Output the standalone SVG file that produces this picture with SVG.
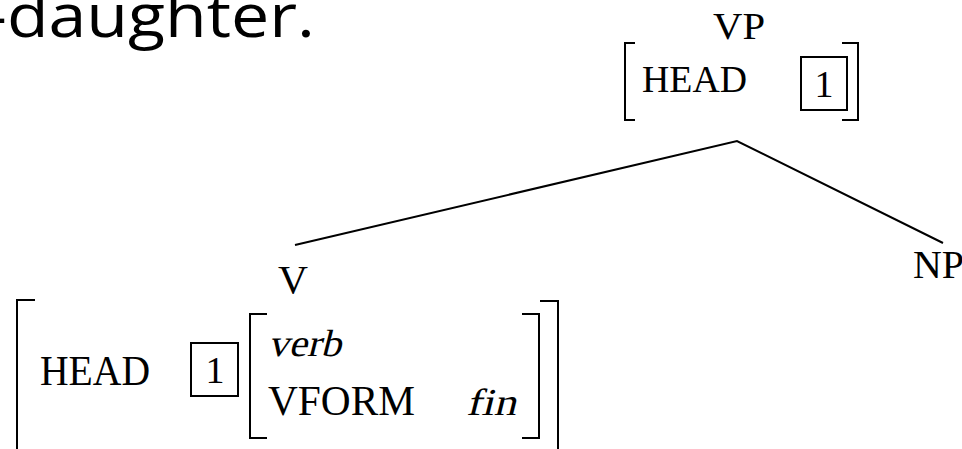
<svg xmlns="http://www.w3.org/2000/svg" width="962" height="449" viewBox="0 0 962 449">
<style>
  .t { font-family: "Liberation Serif", "Times New Roman", serif; fill: #000; }
  .br { fill: none; stroke: #000; stroke-width: 2; }
  .box { fill: none; stroke: #000; stroke-width: 2; }
  .edge { fill: none; stroke: #000; stroke-width: 2; }
  .title { font-family: "Open Sans", "Noto Sans", sans-serif; fill: #000; }
</style>
<rect width="962" height="449" fill="#fff"/>
<text class="title" x="-15" y="37" font-size="60" textLength="330" lengthAdjust="spacingAndGlyphs">-daughter.</text>
<g id="connectors">
  <polyline class="edge" points="295,245 737,141 943,243"/>
</g>
<g id="vp">
  <text class="t" x="713" y="39" font-size="38" textLength="52" lengthAdjust="spacingAndGlyphs">VP</text>
  <path class="br" d="M635,43 H625 V120 H635"/>
  <text class="t" x="642" y="92" font-size="38" textLength="105" lengthAdjust="spacingAndGlyphs">HEAD</text>
  <rect class="box" x="801" y="57" width="46" height="53"/>
  <text class="t" x="824" y="97" font-size="38" text-anchor="middle">1</text>
  <path class="br" d="M842,43 H858 V120 H842"/>
</g>
<g id="np">
  <text class="t" x="913" y="278" font-size="40" textLength="51" lengthAdjust="spacingAndGlyphs">NP</text>
</g>
<g id="v">
  <text class="t" x="278" y="293" font-size="40" textLength="30" lengthAdjust="spacingAndGlyphs">V</text>
  <path class="br" d="M35,300 H17 V452"/>
  <text class="t" x="40" y="385" font-size="42" textLength="110" lengthAdjust="spacingAndGlyphs">HEAD</text>
  <rect class="box" x="191" y="343" width="47" height="53"/>
  <text class="t" x="215" y="383" font-size="38" text-anchor="middle">1</text>
  <path class="br" d="M267,314 H250 V438 H267"/>
  <text class="t" transform="translate(268,356) skewX(-14)" x="0" y="0" font-size="38" textLength="73" lengthAdjust="spacingAndGlyphs">verb</text>
  <text class="t" x="268" y="415" font-size="42" textLength="147" lengthAdjust="spacingAndGlyphs">VFORM</text>
  <text class="t" transform="translate(466,415) skewX(-14)" x="0" y="0" font-size="38" textLength="50" lengthAdjust="spacingAndGlyphs">fin</text>
  <path class="br" d="M522,314 H539 V438 H522"/>
  <path class="br" d="M540,301 H558 V452"/>
</g>
</svg>
